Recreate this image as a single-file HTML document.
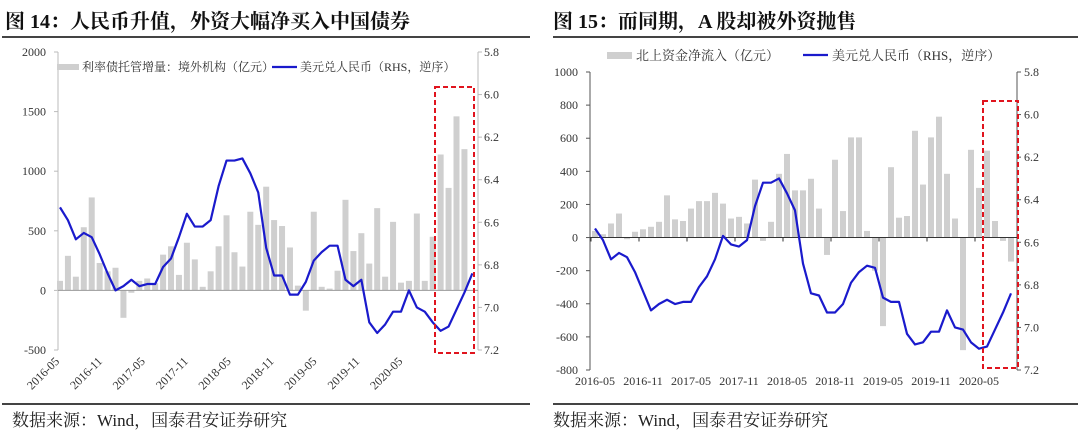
<!DOCTYPE html>
<html><head><meta charset="utf-8">
<style>
body{margin:0;background:#fff;width:1080px;height:438px;overflow:hidden;font-family:"Liberation Serif","Noto Serif CJK SC",serif}
svg text{font-family:"Liberation Serif","Noto Serif CJK SC",serif}
</style></head>
<body>
<svg id="s" width="1080" height="438" xmlns="http://www.w3.org/2000/svg">
<text x="5" y="28" font-size="20" font-weight="bold" font-family="Liberation Sans, Noto Sans CJK SC, sans-serif" fill="#111">图 14：人民币升值，外资大幅净买入中国债券</text>
<text x="553" y="28" font-size="20" font-weight="bold" font-family="Liberation Sans, Noto Sans CJK SC, sans-serif" fill="#111">图 15：而同期，A 股却被外资抛售</text>
<rect x="2" y="36" width="528" height="2" fill="#444"/>
<rect x="553" y="36" width="525" height="2" fill="#444"/>
<rect x="2" y="403" width="528" height="2" fill="#444"/>
<rect x="553" y="403" width="525" height="2" fill="#444"/>
<text x="12" y="426" font-size="17" fill="#222">数据来源：Wind，国泰君安证券研究</text>
<text x="553" y="426" font-size="17" fill="#222">数据来源：Wind，国泰君安证券研究</text>
<g id="L"></g><g id="R"></g>
</svg>
<script>
// Left chart data
const leftBars=[80,290,115,530,780,230,160,190,-230,-20,80,100,60,300,370,130,400,260,30,160,370,630,320,200,660,550,870,590,540,360,40,-170,660,30,15,165,760,330,480,225,690,115,575,65,80,645,80,450,1140,860,1460,1185];
const leftFx=[6.53,6.59,6.68,6.65,6.67,6.75,6.84,6.92,6.90,6.87,6.90,6.89,6.89,6.81,6.77,6.67,6.56,6.62,6.62,6.59,6.43,6.31,6.31,6.30,6.37,6.46,6.72,6.85,6.85,6.94,6.94,6.88,6.78,6.74,6.71,6.71,6.87,6.90,6.87,7.07,7.12,7.08,7.02,7.02,6.92,7.00,7.02,7.07,7.11,7.09,7.01,6.93,6.84];
const leftYTicks=[2000,1500,1000,500,0,-500];
const leftRTicks=[5.8,6.0,6.2,6.4,6.6,6.8,7.0,7.2];
const leftXLabels=["2016-05","2016-11","2017-05","2017-11","2018-05","2018-11","2019-05","2019-11","2020-05"];
// Right chart data
const rightBars=[40,20,85,145,-10,35,50,65,95,255,110,100,175,220,220,270,205,115,125,85,350,-20,95,385,505,285,285,355,175,-105,470,160,605,605,40,-200,-535,425,120,130,645,320,605,730,385,115,-680,530,300,525,100,-20,-145];
const rightFx=[6.535,6.59,6.68,6.65,6.67,6.74,6.83,6.92,6.89,6.87,6.89,6.88,6.88,6.81,6.76,6.68,6.57,6.61,6.62,6.59,6.43,6.32,6.32,6.30,6.37,6.45,6.70,6.84,6.85,6.93,6.93,6.89,6.79,6.74,6.71,6.72,6.86,6.88,6.88,7.03,7.08,7.07,7.02,7.02,6.92,7.00,7.01,7.07,7.10,7.09,7.01,6.93,6.84];
const rightYTicks=[1000,800,600,400,200,0,-200,-400,-600,-800];
const rightRTicks=[5.8,6.0,6.2,6.4,6.6,6.8,7.0,7.2];
const rightXLabels=["2016-05","2016-11","2017-05","2017-11","2018-05","2018-11","2019-05","2019-11","2020-05"];

const NS="http://www.w3.org/2000/svg";
function mk(p,tag,a,txt){const e=document.createElementNS(NS,tag);for(const k in a)e.setAttribute(k,a[k]);if(txt!==undefined)e.textContent=txt;p.appendChild(e);return e;}

// ---- Left ----
(function(){
const g=document.getElementById('L');
const x0=58,x1=478,yt=52,yb=350,lmin=-500,lmax=2000;
const y=v=>yb-(v-lmin)/(lmax-lmin)*(yb-yt);
const yr=v=>yt+(v-5.8)/(7.2-5.8)*(yb-yt);
const x=i=>60+i*7.93;
let e=mk(g,'line',{x1:x0,y1:yt,x2:x0,y2:yb,stroke:'#bbb'});


e=mk(g,'line',{x1:x1,y1:yt,x2:x1,y2:yb,stroke:'#bbb'});


leftYTicks.forEach(v=>{mk(g,'line',{x1:x0-4,y1:y(v),x2:x0,y2:y(v),stroke:'#bbb'});
 e=mk(g,'text',{x:46,y:y(v)+4,'font-size':12,'text-anchor':'end',fill:'#333'},v);
 
 });
leftRTicks.forEach(v=>{mk(g,'line',{x1:x1,y1:yr(v),x2:x1+4,y2:yr(v),stroke:'#bbb'});
 e=mk(g,'text',{x:484,y:yr(v)+4,'font-size':12,fill:'#333'},v.toFixed(1));
 
 });
leftBars.forEach((v,i)=>{const a=y(Math.max(v,0)),b=y(Math.min(v,0));
 e=mk(g,'rect',{x:x(i)-3,y:a,width:6,height:b-a,fill:'#cfcfcf'});
 
 });
e=mk(g,'line',{x1:x0,y1:y(0),x2:x1,y2:y(0),stroke:'#999'});


e=mk(g,'polyline',{points:leftFx.map((v,i)=>x(i)+','+yr(v)).join(' '),fill:'none',stroke:'#1a1acc','stroke-width':2.2,'stroke-linejoin':'round'});


leftXLabels.forEach((t,k)=>{const lx=60+k*42.9,ly=362;
 e=mk(g,'text',{x:lx,y:ly,'font-size':12,'text-anchor':'end',fill:'#333',transform:`rotate(-45 ${lx} ${ly})`},t);
 
 });
e=mk(g,'rect',{x:435,y:87,width:39,height:266,fill:'none',stroke:'#e0141e','stroke-width':2,'stroke-dasharray':'5,3'});


e=mk(g,'rect',{x:57,y:64,width:22,height:6,fill:'#cfcfcf'});


e=mk(g,'text',{x:82,y:71,'font-size':12,fill:'#333'},'利率债托管增量：境外机构（亿元）');


e=mk(g,'line',{x1:272,y1:67,x2:297,y2:67,stroke:'#1a1acc','stroke-width':2.2});


e=mk(g,'text',{x:300,y:71,'font-size':12,fill:'#333'},'美元兑人民币（RHS，逆序）');


})();

// ---- Right ----
(function(){
const g=document.getElementById('R');
const x0=590,x1=1017,yt=72,yb=370,lmin=-800,lmax=1000;
const y=v=>yb-(v-lmin)/(lmax-lmin)*(yb-yt);
const yr=v=>yt+(v-5.8)/(7.2-5.8)*(yb-yt);
const x=i=>595+i*8.0;
let e=mk(g,'line',{x1:x0,y1:yt,x2:x0,y2:yb,stroke:'#555'});


e=mk(g,'line',{x1:x1,y1:yt,x2:x1,y2:yb,stroke:'#555'});


rightYTicks.forEach(v=>{mk(g,'line',{x1:x0-4,y1:y(v),x2:x0,y2:y(v),stroke:'#555'});
 e=mk(g,'text',{x:578,y:y(v)+4,'font-size':12,'text-anchor':'end',fill:'#333'},v);
 
 });
rightRTicks.forEach(v=>{mk(g,'line',{x1:x1,y1:yr(v),x2:x1+4,y2:yr(v),stroke:'#555'});
 e=mk(g,'text',{x:1024,y:yr(v)+4,'font-size':12,fill:'#333'},v.toFixed(1));
 
 });
rightBars.forEach((v,i)=>{const a=y(Math.max(v,0)),b=y(Math.min(v,0));
 e=mk(g,'rect',{x:x(i)-3,y:a,width:6,height:b-a,fill:'#cfcfcf'});
 
 });
e=mk(g,'line',{x1:x0,y1:y(0),x2:x1,y2:y(0),stroke:'#333'});


rightXLabels.forEach((t,k)=>{const lx=x(k*6);
 mk(g,'line',{x1:lx-4,y1:y(0),x2:lx-4,y2:y(0)+4,stroke:'#333'});
 e=mk(g,'text',{x:lx,y:385,'font-size':12,'text-anchor':'middle',fill:'#333'},t);
 
 });
e=mk(g,'polyline',{points:rightFx.map((v,i)=>x(i)+','+yr(v)).join(' '),fill:'none',stroke:'#1a1acc','stroke-width':2.2,'stroke-linejoin':'round'});


e=mk(g,'rect',{x:983,y:101,width:35,height:267,fill:'none',stroke:'#e0141e','stroke-width':2,'stroke-dasharray':'5,3'});


e=mk(g,'rect',{x:607,y:52,width:25,height:7,fill:'#cfcfcf'});


e=mk(g,'text',{x:636,y:60,'font-size':13,fill:'#333'},'北上资金净流入（亿元）');


e=mk(g,'line',{x1:803,y1:55,x2:828,y2:55,stroke:'#1a1acc','stroke-width':2.2});


e=mk(g,'text',{x:832,y:60,'font-size':13,fill:'#333'},'美元兑人民币（RHS，逆序）');


})();
</script>
</body></html>
